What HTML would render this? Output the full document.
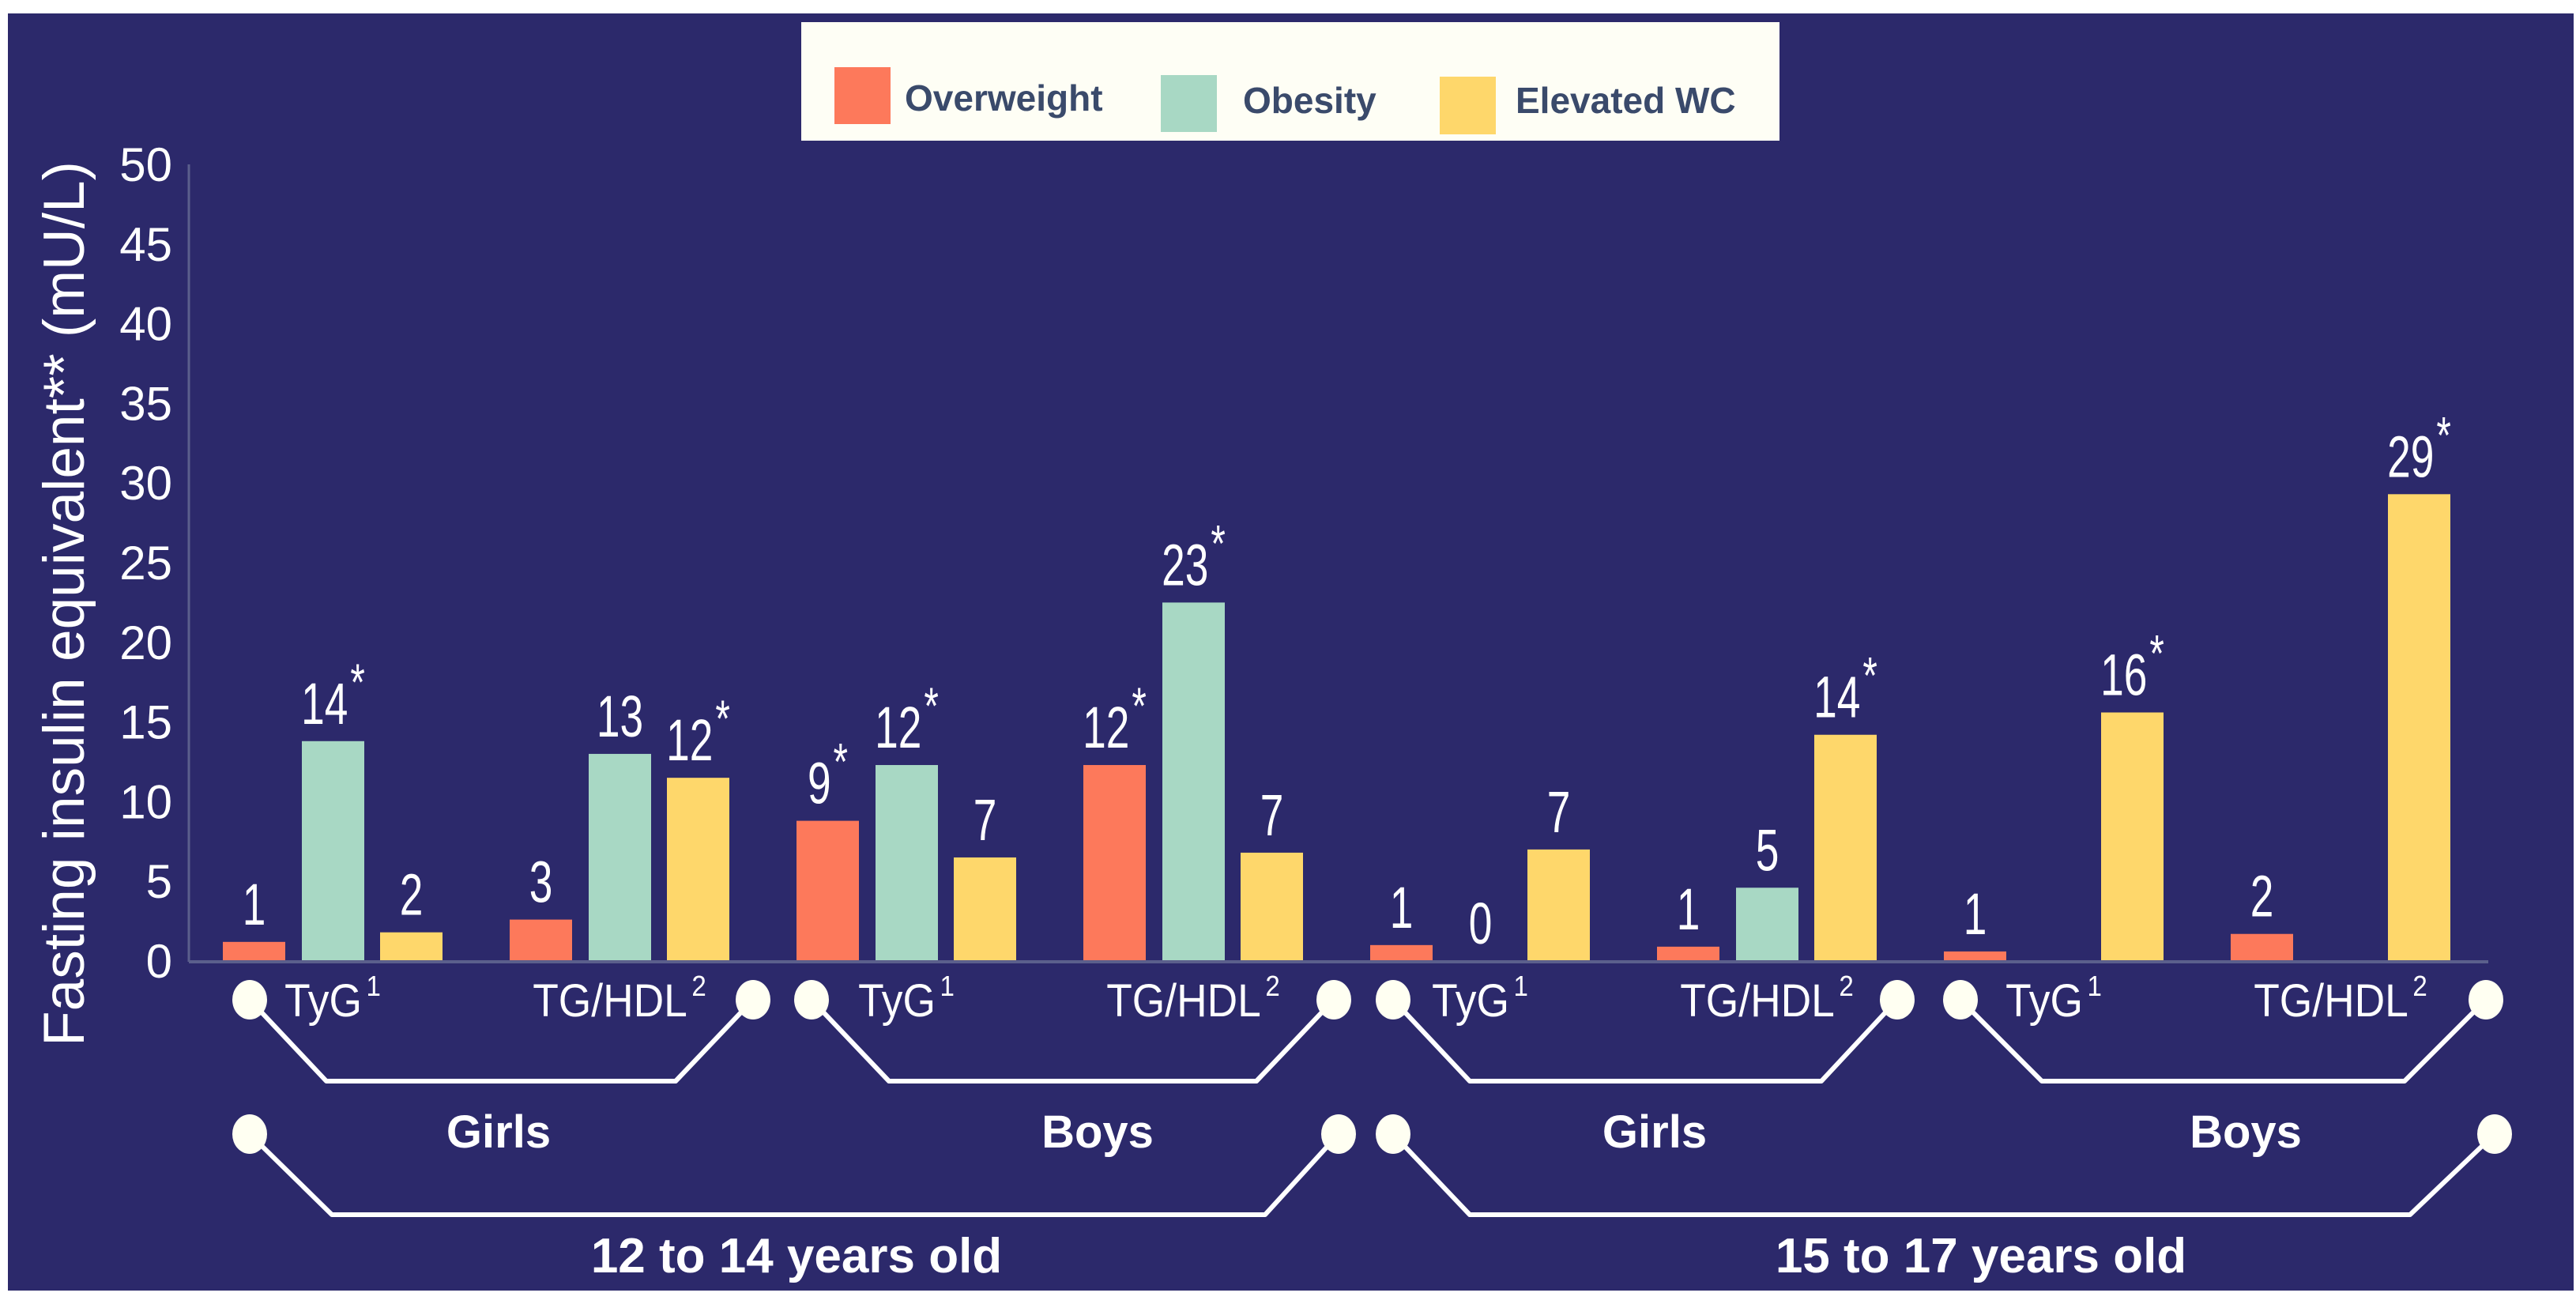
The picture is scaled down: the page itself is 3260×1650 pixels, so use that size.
<!DOCTYPE html>
<html><head><meta charset="utf-8"><style>
html,body{margin:0;padding:0;background:#fff;}
svg{display:block;}
text{font-family:"Liberation Sans",sans-serif;}
</style></head><body>
<svg id="chart" width="3260" height="1650" viewBox="0 0 3260 1650" xmlns="http://www.w3.org/2000/svg">
<rect x="10" y="17" width="3247" height="1616" fill="#2c296b"/>
<g>
<rect x="1014" y="28" width="1238" height="150" fill="#fefef5"/>
<rect x="1056" y="85" width="71" height="72" fill="#fd795b"/>
<text x="1145" y="140" font-size="46" font-weight="bold" fill="#3a4a6b">Overweight</text>
<rect x="1469" y="95" width="71" height="72" fill="#a8d8c4"/>
<text x="1573" y="143" font-size="46" font-weight="bold" fill="#3a4a6b">Obesity</text>
<rect x="1822" y="97" width="71" height="73" fill="#fed76b"/>
<text x="1918" y="143" font-size="46" font-weight="bold" fill="#3a4a6b">Elevated WC</text>
</g>
<text transform="translate(106,764) rotate(-90)" text-anchor="middle" font-size="73" fill="#fff">Fasting insulin equivalent** (mU/L)</text>
<g id="ticks"></g>
<g id="bars"></g>
<line x1="239" y1="208" x2="239" y2="1217" stroke="#5b5f8c" stroke-width="3"/>
<line x1="239" y1="1217" x2="3149" y2="1217" stroke="#5b5f8c" stroke-width="4"/>
<g id="cats"></g>
<g fill="none" stroke="#fff" stroke-width="6" stroke-linejoin="round">
<polyline points="316,1265 413,1368 855,1368 953,1265"/>
<polyline points="1027,1265 1125,1368 1590,1368 1688,1265"/>
<polyline points="1763,1265 1860,1368 2305,1368 2401,1265"/>
<polyline points="2481,1265 2584,1368 3043,1368 3146,1265"/>
<polyline points="316,1435 420,1537 1601,1537 1694,1435"/>
<polyline points="1763,1435 1860,1537 3050,1537 3157,1435"/>
</g>
<g fill="#fffff2">
<ellipse cx="316" cy="1265" rx="22" ry="25"/><ellipse cx="953" cy="1265" rx="22" ry="25"/>
<ellipse cx="1027" cy="1265" rx="22" ry="25"/><ellipse cx="1688" cy="1265" rx="22" ry="25"/>
<ellipse cx="1763" cy="1265" rx="22" ry="25"/><ellipse cx="2401" cy="1265" rx="22" ry="25"/>
<ellipse cx="2481" cy="1265" rx="22" ry="25"/><ellipse cx="3146" cy="1265" rx="22" ry="25"/>
<ellipse cx="316" cy="1435" rx="22" ry="25"/><ellipse cx="1694" cy="1435" rx="22" ry="25"/>
<ellipse cx="1763" cy="1435" rx="22" ry="25"/><ellipse cx="3157" cy="1435" rx="22" ry="25"/>
</g>
<g font-weight="bold" fill="#fff" text-anchor="middle" font-size="58">
<text x="631" y="1452">Girls</text>
<text x="1389" y="1452">Boys</text>
<text x="2094" y="1452">Girls</text>
<text x="2842" y="1452">Boys</text>
<text x="1008" y="1610" font-size="62">12 to 14 years old</text>
<text x="2507" y="1610" font-size="62">15 to 17 years old</text>
</g>
</svg>
<script>
const categories = ["TyG","TG/HDL","TyG","TG/HDL","TyG","TG/HDL","TyG","TG/HDL"];
const catSup = ["1","2","1","2","1","2","1","2"];
const overweight = [1.2, 2.6, 8.8, 12.3, 1.0, 0.9, 0.6, 1.7];
const obesity = [13.8, 13.0, 12.3, 22.5, 0, 4.6, null, null];
const elevatedWC = [1.8, 11.5, 6.5, 6.8, 7.0, 14.2, 15.6, 29.3];
const overweightLabels = ["1","3","9*","12*","1","1","1","2"];
const obesityLabels = ["14*","13","12*","23*","0","5","",""];
const elevatedLabels = ["2","12*","7","7","7","14*","16*","29*"];
const yTicks = [0,5,10,15,20,25,30,35,40,45,50];

const NS = "http://www.w3.org/2000/svg";
const yScale = v => 1216 - v * 20.16;
const groupX = i => 282 + i * 363;
const barW = 79;
function mk(tag, attrs, parent){ const e=document.createElementNS(NS,tag); for(const k in attrs) e.setAttribute(k,attrs[k]); parent.appendChild(e); return e; }

const tg = document.getElementById('ticks');
yTicks.forEach(t => {
  const e = mk('text',{x:218,y:yScale(t)+21,'text-anchor':'end','font-size':60,fill:'#fff'},tg);
  
  
  e.textContent = t;
});

const bg = document.getElementById('bars');
const series = [
  {vals:overweight, labels:overweightLabels, color:'#fd795b', off:0, name:'overweight'},
  {vals:obesity, labels:obesityLabels, color:'#a8d8c4', off:100, name:'obesity'},
  {vals:elevatedWC, labels:elevatedLabels, color:'#fed76b', off:199, name:'elevated-wc'}
];
series.forEach(s => {
  s.vals.forEach((v,i) => {
    if (v === null) return;
    const x = groupX(i) + s.off;
    const y = yScale(v);
    const r = mk('rect',{x:x,y:y,width:barW,height:1216-y,fill:s.color},bg);
    
    
    const lab = s.labels[i];
    if (lab) {
      const star = lab.endsWith('*');
      const t = mk('text',{x:0,y:0,'text-anchor':'middle','font-size':74,fill:'#fff',transform:'translate('+(x+barW/2)+','+(y-22)+') scale(0.72,1)'},bg);
      
      
      t.textContent = star ? lab.slice(0,-1) : lab;
      if (star) {
        const a = mk('tspan',{dy:-30,dx:4,'font-size':66},t);
        a.textContent = '*';
      }
    }
  });
});

const cg = document.getElementById('cats');
categories.forEach((c,i) => {
  const cx = groupX(i) + 139;
  const t = mk('text',{x:0,y:0,'text-anchor':'middle','font-size':58,fill:'#fff',transform:'translate('+cx+',1286) scale(0.92,1)'},cg);
  
  
  t.textContent = c;
  const s = mk('tspan',{dy:-26,dx:6,'font-size':36},t);
  s.textContent = catSup[i];
});
</script>
</body></html>
